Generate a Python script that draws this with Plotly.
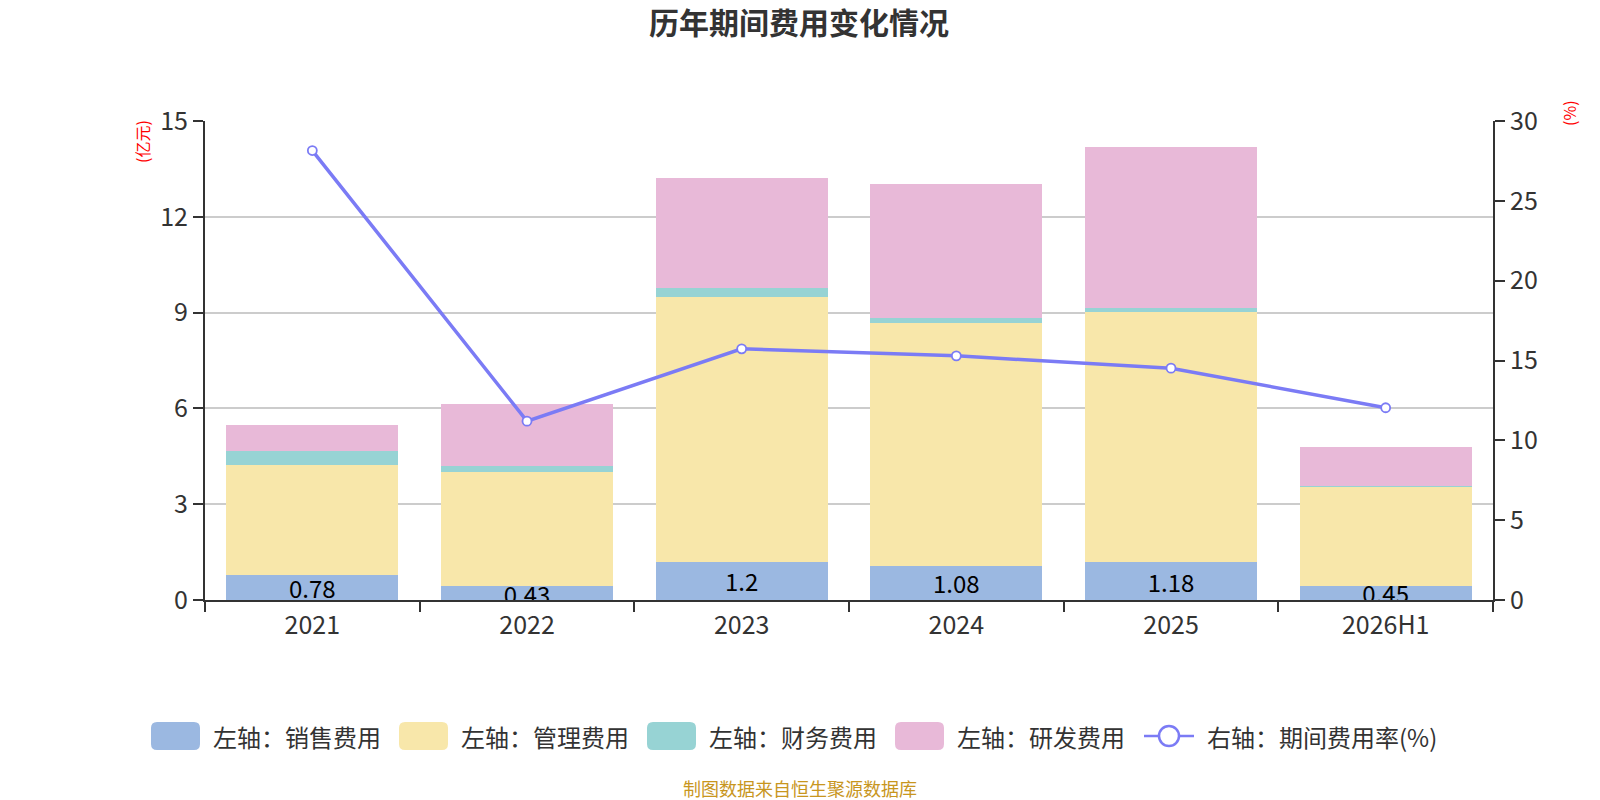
import plotly.graph_objects as go

years = ["2021", "2022", "2023", "2024", "2025", "2026H1"]
sales = [0.78, 0.43, 1.2, 1.08, 1.18, 0.45]
admin = [3.46, 3.58, 8.29, 7.61, 7.83, 3.09]
finance = [0.44, 0.19, 0.29, 0.13, 0.13, 0.02]
rnd = [0.80, 1.95, 3.44, 4.21, 5.06, 1.24]
rate = [28.15, 11.2, 15.73, 15.29, 14.52, 12.04]

names = ["左轴：销售费用", "左轴：管理费用", "左轴：财务费用", "左轴：研发费用", "右轴：期间费用率(%)"]
colors = ["#9bb8e1", "#f8e7aa", "#97d3d4", "#e8b9d8", "#7b7bf5"]

FONT = "Noto Sans CJK SC"
W, H = 1600, 800
L, R, T, B = 205, 107, 121, 200
PW, PH = W - L - R, H - T - B


def px_x(px):
    return (px - L) / PW


def px_y(py):
    return (H - B - py) / PH


fig = go.Figure()
fig.add_trace(go.Bar(
    x=years, y=sales, name=names[0], marker=dict(color=colors[0], line=dict(width=0)),
    text=[str(v) for v in sales], textposition="inside", insidetextanchor="middle",
    textangle=0, constraintext="none", cliponaxis=True,
    textfont=dict(color="#000000", size=24, family=FONT),
))
fig.add_trace(go.Bar(x=years, y=admin, name=names[1], marker=dict(color=colors[1], line=dict(width=0))))
fig.add_trace(go.Bar(x=years, y=finance, name=names[2], marker=dict(color=colors[2], line=dict(width=0))))
fig.add_trace(go.Bar(x=years, y=rnd, name=names[3], marker=dict(color=colors[3], line=dict(width=0))))
fig.add_trace(go.Scatter(
    x=years, y=rate, name=names[4], yaxis="y2", mode="lines+markers",
    line=dict(color=colors[4], width=3.5),
    marker=dict(symbol="circle", size=9, color="#ffffff", line=dict(color=colors[4], width=1.8)),
))

fig.update_layout(
    width=W, height=H,
    margin=dict(l=L, r=R, t=T, b=B),
    paper_bgcolor="white", plot_bgcolor="white",
    barmode="stack", bargap=0.2,
    font=dict(family=FONT, color="#333333"),
    title=dict(text="<b>历年期间费用变化情况</b>", x=799 / W, xanchor="center", y=1 - 23 / H, yanchor="middle",
               font=dict(size=30, color="#333333", family=FONT)),
    xaxis=dict(
        type="category", tickson="boundaries", ticks="outside", ticklen=10, tickwidth=2, tickcolor="#333333",
        showline=True, linecolor="#333333", linewidth=2, showgrid=False,
        tickfont=dict(size=25, color="#333333"), ticklabelstandoff=2,
    ),
    yaxis=dict(
        range=[0, 15], tickvals=[0, 3, 6, 9, 12, 15], ticks="outside", ticklen=10, tickwidth=2,
        tickcolor="#333333", showline=True, linecolor="#333333", linewidth=2,
        showgrid=True, gridcolor="#cccccc", gridwidth=1.5, zeroline=False,
        tickfont=dict(size=25, color="#333333"),
    ),
    yaxis2=dict(
        range=[0, 30], tickvals=[0, 5, 10, 15, 20, 25, 30], overlaying="y", side="right",
        ticks="outside", ticklen=10, tickwidth=2, tickcolor="#333333",
        showline=True, linecolor="#333333", linewidth=2, showgrid=False, zeroline=False,
        tickfont=dict(size=25, color="#333333"),
    ),
    showlegend=False,
)

# custom legend (ECharts style: rounded rectangles + line-with-circle)
legend_x = [151, 399, 647, 895, 1144]
text_x = [211, 459, 707, 955, 1205]
ly_top, ly_bot, ly_mid = 722, 750, 736
shapes = []
for i in range(4):
    x0, x1 = px_x(legend_x[i]), px_x(legend_x[i] + 49)
    y0, y1 = px_y(ly_bot), px_y(ly_top)
    rx, ry = 6 / PW, 6 / PH
    path = (f"M {x0 + rx},{y0} L {x1 - rx},{y0} Q {x1},{y0} {x1},{y0 + ry} "
            f"L {x1},{y1 - ry} Q {x1},{y1} {x1 - rx},{y1} L {x0 + rx},{y1} "
            f"Q {x0},{y1} {x0},{y1 - ry} L {x0},{y0 + ry} Q {x0},{y0} {x0 + rx},{y0} Z")
    shapes.append(dict(type="path", path=path, xref="paper", yref="paper",
                       fillcolor=colors[i], line=dict(width=0)))
    fig.add_annotation(text=names[i], xref="paper", yref="paper", x=px_x(text_x[i]), y=px_y(ly_mid),
                       xanchor="left", yanchor="middle", showarrow=False,
                       font=dict(size=24, color="#333333", family=FONT))
# line legend
lx0 = legend_x[4]
shapes.append(dict(type="line", xref="paper", yref="paper", x0=px_x(lx0), x1=px_x(lx0 + 50),
                   y0=px_y(ly_mid), y1=px_y(ly_mid), line=dict(color=colors[4], width=2.5)))
shapes.append(dict(type="circle", xref="paper", yref="paper", x0=px_x(lx0 + 15), x1=px_x(lx0 + 35),
                   y0=px_y(ly_mid + 10), y1=px_y(ly_mid - 10), fillcolor="#ffffff",
                   line=dict(color=colors[4], width=2.5)))
fig.add_annotation(text=names[4], xref="paper", yref="paper", x=px_x(text_x[4]), y=px_y(ly_mid),
                   xanchor="left", yanchor="middle", showarrow=False,
                   font=dict(size=24, color="#333333", family=FONT))
fig.update_layout(shapes=shapes)

fig.add_annotation(text="(亿元)", xref="paper", yref="paper", x=px_x(142), y=px_y(142),
                   showarrow=False, textangle=-90, font=dict(size=16, color="#ff0000", family=FONT),
                   xanchor="center", yanchor="middle")
fig.add_annotation(text="(%)", xref="paper", yref="paper", x=px_x(1569), y=px_y(113),
                   showarrow=False, textangle=-90, font=dict(size=16, color="#ff0000", family=FONT),
                   xanchor="center", yanchor="middle")
fig.add_annotation(text="制图数据来自恒生聚源数据库", xref="paper", yref="paper", x=px_x(800),
                   y=px_y(788), showarrow=False, font=dict(size=18, color="#c8961e", family=FONT),
                   xanchor="center", yanchor="middle")

fig.write_html("out.html", config={"displayModeBar": False},
               post_script="document.body.style.margin='0px';")
